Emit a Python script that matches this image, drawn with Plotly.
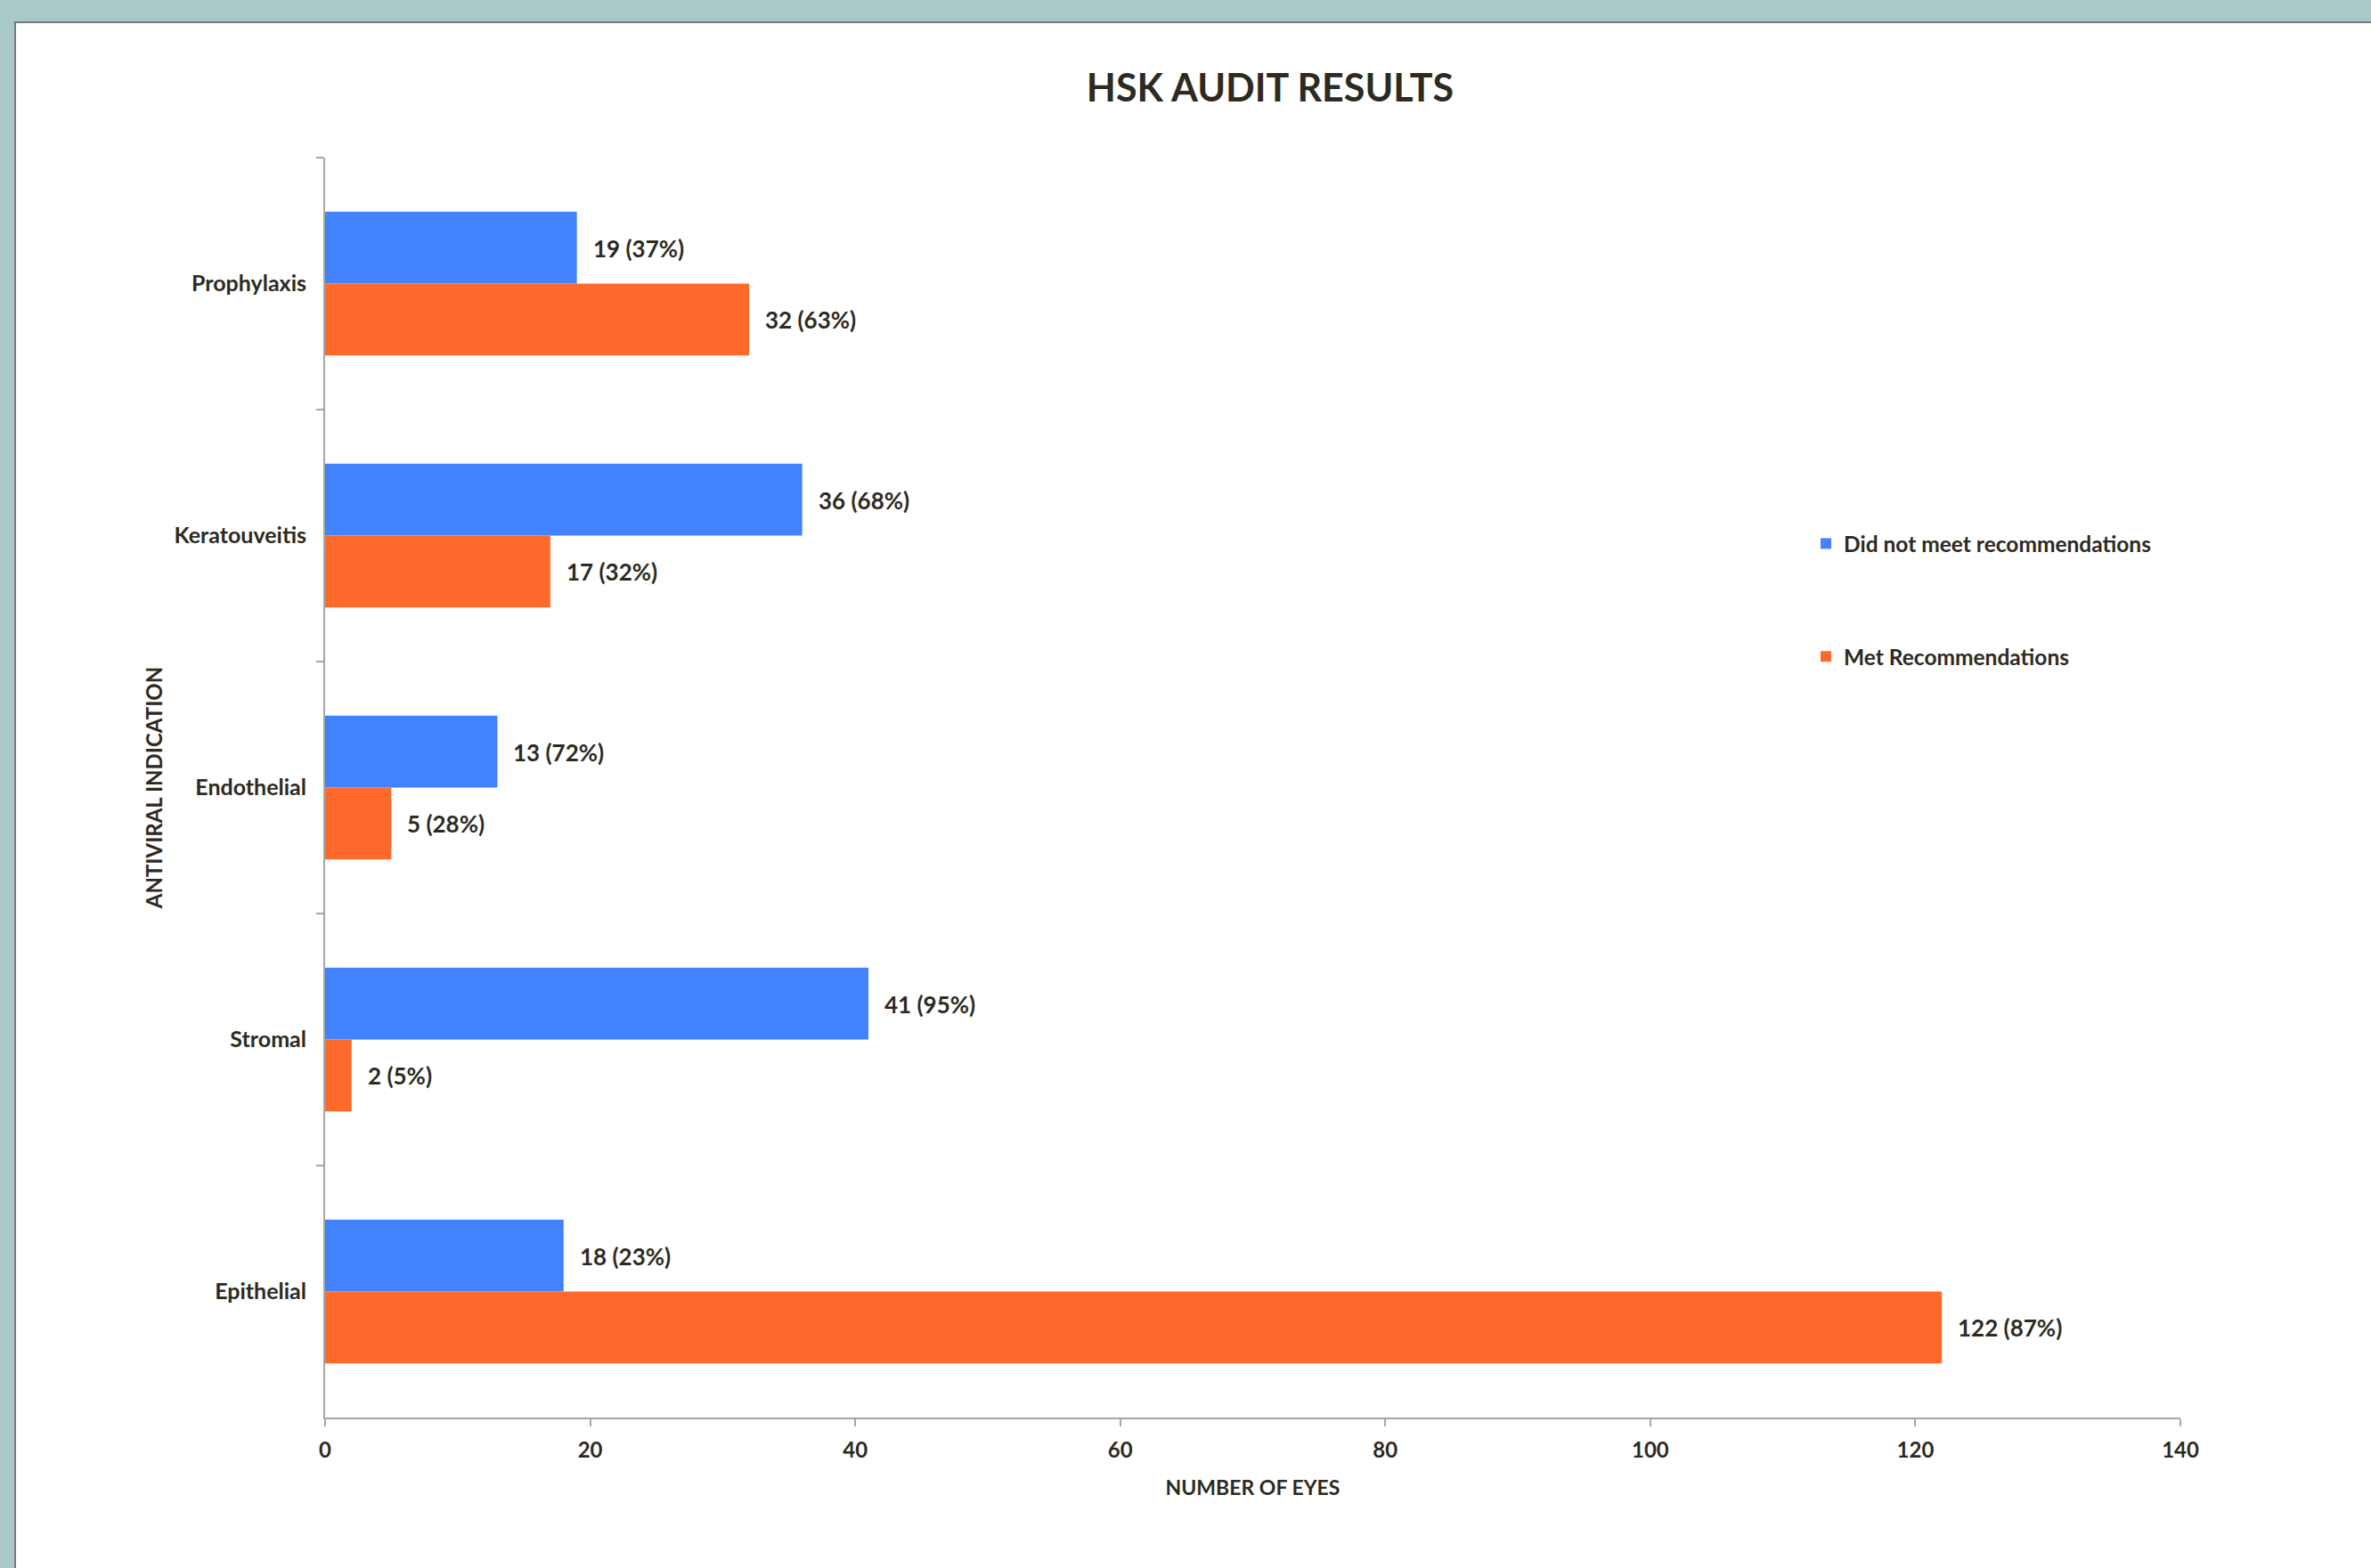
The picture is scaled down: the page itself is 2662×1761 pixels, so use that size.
import plotly.graph_objects as go

categories = ["Prophylaxis", "Keratouveitis", "Endothelial", "Stromal", "Epithelial"]
not_met = [19, 36, 13, 41, 18]
not_met_pct = [37, 68, 72, 95, 23]
met = [32, 17, 5, 2, 122]
met_pct = [63, 32, 28, 5, 87]
x_ticks = [0, 20, 40, 60, 80, 100, 120, 140]

W, H = 2662, 1761
L, R, T, B = 365, 2448, 177, 1592
pw, ph = R - L, B - T

def px_x(p):
    return (p - L) / pw

def px_y(p):
    return (B - p) / ph

FONT = "Futura, 'Century Gothic', Lato, 'Open Sans', sans-serif"
TXT = "#2d2a1f"
BLUE = "#4282ff"
ORANGE = "#ff6a2c"

fig = go.Figure()
fig.add_trace(go.Bar(
    y=categories, x=not_met, orientation="h", name="Did not meet recommendations",
    marker=dict(color=BLUE, line=dict(width=0)), legendgroup="a",
))
fig.add_trace(go.Bar(
    y=categories, x=met, orientation="h", name="Met Recommendations",
    marker=dict(color=ORANGE, line=dict(width=0)), legendgroup="b",
))

LBL = dict(family=FONT, size=26, color=TXT, weight="bold")
annotations = []
for c, v, p in zip(categories, not_met, not_met_pct):
    annotations.append(dict(x=v, y=c, xref="x", yref="y", text=f"{v} ({p}%)",
                            showarrow=False, xanchor="left", yanchor="middle",
                            xshift=16, yshift=40, font=LBL))
for c, v, p in zip(categories, met, met_pct):
    annotations.append(dict(x=v, y=c, xref="x", yref="y", text=f"{v} ({p}%)",
                            showarrow=False, xanchor="left", yanchor="middle",
                            xshift=16, yshift=-40, font=LBL))

shapes = [
    dict(type="rect", xref="paper", yref="paper",
         x0=px_x(17), x1=px_x(W + 10), y0=px_y(H + 10), y1=px_y(25),
         fillcolor="white", line=dict(color="#7a7a72", width=2), layer="below"),
]

fig.update_layout(
    width=W, height=H,
    paper_bgcolor="#a9c8c8", plot_bgcolor="rgba(0,0,0,0)",
    margin=dict(l=L, r=W - R, t=T, b=H - B),
    barmode="group", bargap=0.43, bargroupgap=0,
    title=dict(text="HSK AUDIT RESULTS", x=1426 / W, xanchor="center",
               y=1 - 99 / H, yanchor="middle", yref="container",
               font=dict(family=FONT, size=43, color=TXT, weight="bold")),
    font=dict(family=FONT, color=TXT),
    shapes=shapes,
    annotations=annotations,
    legend=dict(x=px_x(2030), y=px_y(588), xanchor="left", yanchor="top",
                bgcolor="rgba(0,0,0,0)", tracegroupgap=92, traceorder="grouped",
                font=dict(family=FONT, size=24.5, color=TXT, weight="bold")),
    xaxis=dict(range=[0, 140], tickvals=x_ticks, showgrid=False, zeroline=False,
               showline=True, linecolor="#a6a6a6", linewidth=2,
               ticks="outside", ticklen=8, tickcolor="#a6a6a6", tickwidth=2,
               ticklabelstandoff=6,
               tickfont=dict(family=FONT, size=24, color=TXT, weight="bold"),
               title=dict(text="NUMBER OF EYES", standoff=22,
                          font=dict(family=FONT, size=23, color=TXT, weight="bold"))),
    yaxis=dict(autorange="reversed", type="category", showgrid=False, zeroline=False,
               showline=True, linecolor="#a6a6a6", linewidth=2,
               ticks="outside", ticklen=8, tickcolor="#a6a6a6", tickwidth=2,
               tickson="boundaries", ticklabelstandoff=14,
               tickfont=dict(family=FONT, size=25, color=TXT, weight="bold"),
               title=dict(text="ANTIVIRAL INDICATION", standoff=6,
                          font=dict(family=FONT, size=24, color=TXT, weight="bold"))),
)

fig.write_html("out.html", config={"displayModeBar": False},
               post_script="document.body.style.margin='0';document.body.style.overflow='hidden';")
